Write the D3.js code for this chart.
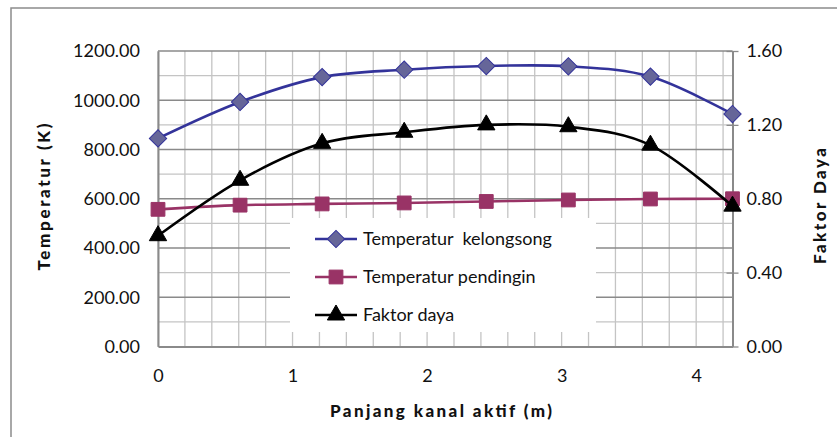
<!DOCTYPE html>
<html>
<head>
<meta charset="utf-8">
<script src="https://cdn.jsdelivr.net/npm/d3@7"></script>
<style>
  html, body { margin: 0; padding: 0; background: #fff; }
  svg text { font-family: Lato, "Open Sans", "Noto Sans", sans-serif; fill: #111; }
</style>
</head>
<body>
<svg id="chart" width="837" height="437"></svg>
<script>
// Posisi sepanjang kanal aktif (m)
const panjang = [0, 0.61, 1.22, 1.83, 2.44, 3.05, 3.66, 4.27];
// Temperatur kelongsong (K)
const tempKelongsong = [845, 993, 1094, 1124, 1139, 1138, 1096, 944];
// Temperatur pendingin (K)
const tempPendingin = [557, 574, 579, 583, 589, 595, 599, 600];
// Faktor daya
const faktorDaya = [0.60, 0.90, 1.10, 1.16, 1.20, 1.19, 1.09, 0.76];

const leftTicks = [0, 200, 400, 600, 800, 1000, 1200];
const rightTicks = [0, 0.4, 0.8, 1.2, 1.6];
const bottomTicks = [0, 1, 2, 3, 4];

const seriesNames = ["Temperatur  kelongsong", "Temperatur pendingin", "Faktor daya"];

const svg = d3.select("#chart");

const x = d3.scaleLinear().domain([0, 4.27]).range([158, 732.5]);
const yL = d3.scaleLinear().domain([0, 1200]).range([346.5, 51]);
const yR = d3.scaleLinear().domain([0, 1.6]).range([346.5, 51]);

// outer chart frame
svg.append("rect")
  .attr("x", 11).attr("y", 8).attr("width", 840).attr("height", 440)
  .attr("fill", "none").attr("stroke", "#8c8c8c").attr("stroke-width", 1.5);

const grid = svg.append("g");
// vertical gridlines every 0.2 m
grid.selectAll("line.v").data(d3.range(0, 4.21, 0.2)).join("line")
  .attr("x1", d => x(d)).attr("x2", d => x(d))
  .attr("y1", yL(0)).attr("y2", yL(1200))
  .attr("stroke", "#c4c4c4").attr("stroke-width", 1.3);
// minor horizontal gridlines
grid.selectAll("line.hm").data(d3.range(100, 1200, 200)).join("line")
  .attr("x1", x(0)).attr("x2", x(4.27))
  .attr("y1", d => yL(d)).attr("y2", d => yL(d))
  .attr("stroke", "#c4c4c4").attr("stroke-width", 1.3);
// major horizontal gridlines
grid.selectAll("line.hM").data(leftTicks.slice(1)).join("line")
  .attr("x1", x(0)).attr("x2", x(4.27))
  .attr("y1", d => yL(d)).attr("y2", d => yL(d))
  .attr("stroke", "#8a8a8a").attr("stroke-width", 1.5);

// axes
const axLeft = d3.axisLeft(yL).tickValues(leftTicks).tickFormat(d3.format(".2f")).tickSize(0).tickPadding(18);
const gL = svg.append("g").attr("transform", `translate(${x(0)},0)`).call(axLeft);
const axRight = d3.axisRight(yR).tickValues(rightTicks).tickFormat(d3.format(".2f")).tickSizeInner(6).tickSizeOuter(0).tickPadding(8);
const gR = svg.append("g").attr("transform", `translate(${x(4.27)},0)`).call(axRight);
gR.selectAll(".tick line").attr("x1", -6);
const axBottom = d3.axisBottom(x).tickValues(bottomTicks).tickFormat(d3.format("d")).tickSize(0).tickPadding(26);
const gB = svg.append("g").attr("transform", `translate(0,${yL(0)})`).call(axBottom);

[gL, gR, gB].forEach(g => {
  g.select(".domain").attr("stroke", "#8a8a8a").attr("stroke-width", 2);
  g.selectAll(".tick line").attr("stroke", "#8a8a8a").attr("stroke-width", 1.3);
  g.selectAll(".tick text").attr("font-size", 18).attr("font-family", "Lato, sans-serif").attr("fill", "#111");
});
gB.selectAll(".tick text").attr("dy", "0.55em");

// axis titles
svg.append("text")
  .attr("transform", "translate(50,197) rotate(-90)")
  .attr("text-anchor", "middle")
  .attr("font-size", 17).attr("font-weight", "900")
  .attr("textLength", 147).attr("lengthAdjust", "spacing")
  .text("Temperatur (K)");
svg.append("text")
  .attr("transform", "translate(826,206) rotate(-90)")
  .attr("text-anchor", "middle")
  .attr("font-size", 17).attr("font-weight", "900")
  .attr("textLength", 116).attr("lengthAdjust", "spacing")
  .text("Faktor Daya");
svg.append("text")
  .attr("x", 441).attr("y", 417)
  .attr("text-anchor", "middle")
  .attr("font-size", 17).attr("font-weight", "900")
  .attr("textLength", 222).attr("lengthAdjust", "spacing")
  .text("Panjang kanal aktif (m)");

// series
const curve = d3.curveCardinal.tension(0);
const series = [
  { name: seriesNames[0], values: tempKelongsong, y: yL, line: "#33339a", fill: "#666699", stroke: "#33339a", shape: d3.symbolSquare, size: 150, rot: 45 },
  { name: seriesNames[1], values: tempPendingin, y: yL, line: "#993366", fill: "#993366", stroke: "#993366", shape: d3.symbolSquare, size: 190, rot: 0 },
  { name: seriesNames[2], values: faktorDaya, y: yR, line: "#000000", fill: "#000000", stroke: "#000000", shape: d3.symbolTriangle, size: 130, rot: 0 }
];

series.forEach(s => {
  const pts = panjang.map((p, i) => [x(p), s.y(s.values[i])]);
  svg.append("path")
    .attr("d", d3.line().curve(curve)(pts))
    .attr("fill", "none").attr("stroke", s.line).attr("stroke-width", 2.6);
  svg.append("g").selectAll("path").data(pts).join("path")
    .attr("transform", d => `translate(${d[0]},${d[1]}) rotate(${s.rot})`)
    .attr("d", d3.symbol().type(s.shape).size(s.size))
    .attr("fill", s.fill).attr("stroke", s.stroke).attr("stroke-width", 1);
});

// legend
const lg = svg.append("g");
lg.append("rect").attr("x", 290).attr("y", 218).attr("width", 306).attr("height", 114).attr("fill", "#fff");
series.forEach((s, i) => {
  const cy = 239 + i * 38;
  lg.append("line").attr("x1", 315).attr("x2", 357).attr("y1", cy).attr("y2", cy)
    .attr("stroke", s.line).attr("stroke-width", 2.6);
  lg.append("path").attr("transform", `translate(336,${cy}) rotate(${s.rot})`)
    .attr("d", d3.symbol().type(s.shape).size(s.size))
    .attr("fill", s.fill).attr("stroke", s.stroke).attr("stroke-width", 1);
  lg.append("text").attr("x", 363).attr("y", cy).attr("dy", "0.35em")
    .attr("font-size", 18).style("white-space", "pre")
    .text(s.name);
});
</script>
</body>
</html>
